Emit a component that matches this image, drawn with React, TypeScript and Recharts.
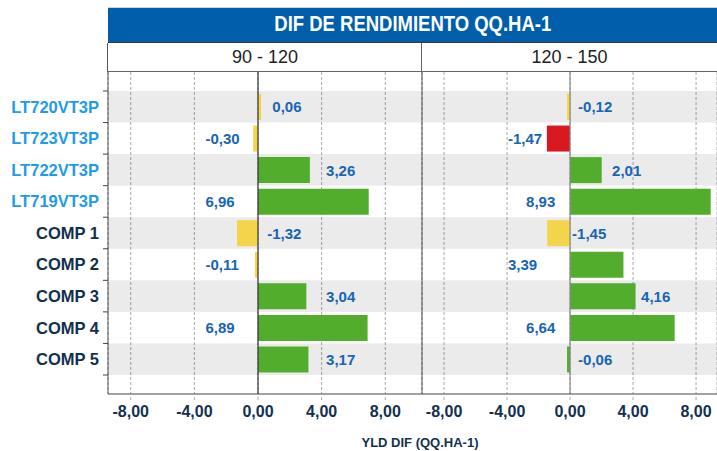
import React from "react"
import {
  Bar,
  BarChart,
  CartesianGrid,
  Cell,
  LabelList,
  ReferenceArea,
  ReferenceLine,
  XAxis,
  YAxis,
} from "recharts"

const TITLE = "DIF DE RENDIMIENTO QQ.HA-1"
const AXIS_TITLE = "YLD DIF (QQ.HA-1)"
const PANELS = ["90 - 120", "120 - 150"]

const CATEGORIES = [
  "LT720VT3P",
  "LT723VT3P",
  "LT722VT3P",
  "LT719VT3P",
  "COMP 1",
  "COMP 2",
  "COMP 3",
  "COMP 4",
  "COMP 5",
]
const DIF_90_120 = [0.06, -0.3, 3.26, 6.96, -1.32, -0.11, 3.04, 6.89, 3.17]
const DIF_120_150 = [-0.12, -1.47, 2.01, 8.93, -1.45, 3.39, 4.16, 6.64, -0.06]
const X_TICKS = [-8, -4, 0, 4, 8]

const GREEN = "#52ad2c"
const YELLOW = "#f3d44b"
const RED = "#d9191f"
const COLORS_90_120 = [YELLOW, YELLOW, GREEN, GREEN, YELLOW, YELLOW, GREEN, GREEN, GREEN]
const COLORS_120_150 = [YELLOW, RED, GREEN, GREEN, YELLOW, GREEN, GREEN, GREEN, GREEN]

// value labels were dragged by hand in the original; start of each label in axis units
const LABEL_AT_90_120 = [0.9, -3.3, 4.28, -3.3, 0.58, -3.3, 4.28, -3.3, 4.28]
const LABEL_AT_120_150 = [0.51, -3.94, 2.67, -2.79, 0.13, -3.94, 4.51, -2.79, 0.51]

const FONT = "'Liberation Sans', Arial, sans-serif"
const NAVY = "#13314f"
const LABEL_BLUE = "#1765b3"

const PLOT_TOP = 72
const PLOT_H = 322
const X_AXIS_H = 57
const Y_PAD = 19
const BAND = (PLOT_H - 2 * Y_PAD) / CATEGORIES.length

const fmt = (v: number) => v.toFixed(2).replace(".", ",")

function CategoryTick(props: any) {
  const { x, y, payload, index } = props
  const name: string = payload.value
  const isLast = index === CATEGORIES.length - 1
  return (
    <g>
      <text
        x={x}
        y={y}
        dy="0.36em"
        textAnchor="end"
        fill={name.startsWith("LT") ? "#1e9be9" : "#10304e"}
        fontSize={16.5}
        fontWeight="bold"
        fontFamily={FONT}
      >
        {name}
      </text>
      <line x1={x + 4} x2={x + 9} y1={y - BAND / 2} y2={y - BAND / 2} stroke="#444" />
      {isLast && <line x1={x + 4} x2={x + 9} y1={y + BAND / 2} y2={y + BAND / 2} stroke="#444" />}
    </g>
  )
}

interface PanelProps {
  values: number[]
  colors: string[]
  labelAt: number[]
  domain: [number, number]
  left: number
  width: number
  yAxisWidth: number
  showCategories: boolean
  zeroColor: string
}

function Panel({ values, colors, labelAt, domain, left, width, yAxisWidth, showCategories, zeroColor }: PanelProps) {
  const data = CATEGORIES.map((name, i) => ({ name, v: values[i] }))
  const plotW = width - yAxisWidth
  const unit = plotW / (domain[1] - domain[0])

  const renderLabel = (props: any) => {
    const box = props.viewBox ?? props
    const index: number = props.index
    const v = values[index]
    const bx = box.x ?? props.x
    const bw = box.width ?? props.width
    const zeroX = v < 0 && bw > 0 ? bx + bw : bx
    const cy = (box.y ?? props.y) + (box.height ?? props.height) / 2
    return (
      <text
        key={`lbl-${index}`}
        x={zeroX + labelAt[index] * unit}
        y={cy}
        dy="0.36em"
        textAnchor="start"
        fill={LABEL_BLUE}
        fontSize={15}
        fontWeight="bold"
        fontFamily={FONT}
      >
        {fmt(v)}
      </text>
    )
  }

  return (
    <div style={{ position: "absolute", left, top: PLOT_TOP }}>
      <BarChart
        width={width}
        height={PLOT_H + X_AXIS_H}
        data={data}
        layout="vertical"
        margin={{ top: 0, right: 0, bottom: 0, left: 0 }}
      >
        <CartesianGrid horizontal={false} stroke="#a8a8a8" strokeDasharray="3 2" />
        {CATEGORIES.filter((_, i) => i % 2 === 0).map((c) => (
          <ReferenceArea key={c} y1={c} y2={c} fill="#000" fillOpacity={0.08} stroke="none" ifOverflow="visible" />
        ))}
        <XAxis
          type="number"
          domain={domain}
          ticks={X_TICKS}
          interval={0}
          allowDataOverflow
          height={X_AXIS_H}
          axisLine={{ stroke: "#444" }}
          tickLine={{ stroke: "#aaa", strokeDasharray: "3 2" }}
          tickSize={6}
          tickMargin={6}
          tick={{ fill: NAVY, fontSize: 16, fontWeight: "bold", fontFamily: FONT }}
          tickFormatter={fmt}
        />
        <YAxis
          type="category"
          dataKey="name"
          width={yAxisWidth}
          padding={{ top: Y_PAD, bottom: Y_PAD }}
          interval={0}
          axisLine={{ stroke: "#555" }}
          tickLine={false}
          tickSize={0}
          tickMargin={9}
          tick={showCategories ? <CategoryTick /> : false}
        />
        <Bar dataKey="v" barSize={26} minPointSize={3} isAnimationActive={false}>
          {data.map((d, i) => (
            <Cell key={d.name} fill={colors[i]} />
          ))}
          <LabelList dataKey="v" content={renderLabel} />
        </Bar>
        <ReferenceLine x={0} stroke={zeroColor} strokeWidth={1.2} />
      </BarChart>
    </div>
  )
}

export default function App() {
  return (
    <div
      style={{
        position: "absolute",
        left: 0,
        top: 0,
        width: 717,
        height: 451,
        background: "#fff",
        overflow: "hidden",
        fontFamily: FONT,
      }}
    >
      <div style={{ position: "absolute", left: 108, top: 7, width: 609, height: 1, background: "#d4d4d4" }} />
      <div
        style={{
          position: "absolute",
          left: 108,
          top: 8,
          width: 609,
          height: 34,
          background: "#005eaa",
          borderBottom: "1px solid #3a3a3a",
          display: "flex",
          alignItems: "center",
          justifyContent: "center",
        }}
      >
        <span
          style={{
            color: "#fff",
            fontSize: 22,
            fontWeight: "bold",
            whiteSpace: "nowrap",
            display: "inline-block",
            transform: "scaleX(0.84)",
            marginBottom: 3,
          }}
        >
          {TITLE}
        </span>
      </div>
      <div
        style={{
          position: "absolute",
          left: 107,
          top: 43,
          width: 610,
          height: 29,
          borderLeft: "1px solid #555",
          borderBottom: "1px solid #666",
          boxSizing: "border-box",
        }}
      />
      <div style={{ position: "absolute", left: 421, top: 43, width: 1, height: 29, background: "#666" }} />
      {PANELS.map((p, i) => (
        <div
          key={p}
          style={{
            position: "absolute",
            left: i === 0 ? 108 : 422,
            width: i === 0 ? 314 : 295,
            top: 45,
            height: 24,
            lineHeight: "24px",
            textAlign: "center",
            fontSize: 18,
            color: "#222",
          }}
        >
          {p}
        </div>
      ))}

      <Panel
        values={DIF_90_120}
        colors={COLORS_90_120}
        labelAt={LABEL_AT_90_120}
        domain={[-9.43, 10.31]}
        left={0}
        width={422}
        yAxisWidth={108}
        showCategories
        zeroColor="#333"
      />
      <Panel
        values={DIF_120_150}
        colors={COLORS_120_150}
        labelAt={LABEL_AT_120_150}
        domain={[-9.4, 9.33]}
        left={417}
        width={300}
        yAxisWidth={5}
        showCategories={false}
        zeroColor="#888"
      />

      <div
        style={{
          position: "absolute",
          left: 320,
          width: 200,
          top: 435,
          lineHeight: "16px",
          textAlign: "center",
          fontSize: 13,
          fontWeight: "bold",
          color: NAVY,
        }}
      >
        {AXIS_TITLE}
      </div>
    </div>
  )
}
